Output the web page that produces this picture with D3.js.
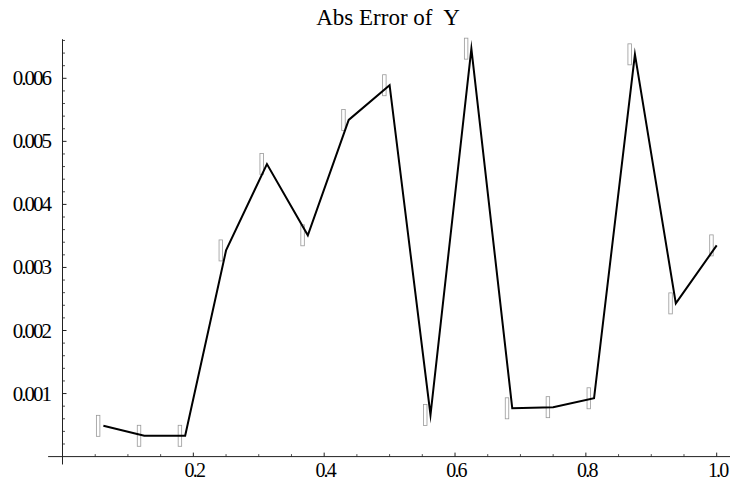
<!DOCTYPE html>
<html>
<head>
<meta charset="utf-8">
<script src="https://cdn.jsdelivr.net/npm/d3@7"></script>
<style>
  body { margin: 0; background: #fff; }
</style>
</head>
<body>
<svg id="chart"></svg>
<script>
// sample points (x) and absolute error (y)
const xValues = [0.0625, 0.125, 0.1875, 0.25, 0.3125, 0.375, 0.4375, 0.5,
                 0.5625, 0.625, 0.6875, 0.75, 0.8125, 0.875, 0.9375, 1.0];
const errValues = [0.000488, 0.00033, 0.00033, 0.00327, 0.00464, 0.00351, 0.00534, 0.00589,
                   0.00066, 0.00647, 0.000766, 0.000784, 0.000925, 0.00638, 0.00243, 0.00335];
const xTicks = [0.2, 0.4, 0.6, 0.8, 1.0];
const yTicks = [0.001, 0.002, 0.003, 0.004, 0.005, 0.006];
const xMinorTicks = [0.05, 0.1, 0.15, 0.25, 0.3, 0.35, 0.45, 0.5, 0.55, 0.65, 0.7, 0.75, 0.85, 0.9, 0.95];
const yMinorTicks = [0.0002, 0.0004, 0.0006, 0.0008, 0.0012, 0.0014, 0.0016, 0.0018,
                     0.0022, 0.0024, 0.0026, 0.0028, 0.0032, 0.0034, 0.0036, 0.0038,
                     0.0042, 0.0044, 0.0046, 0.0048, 0.0052, 0.0054, 0.0056, 0.0058,
                     0.0062, 0.0064, 0.0066];

const width = 730, height = 480;
const font = "'Liberation Serif', 'Times New Roman', serif";
const data = xValues.map((x, i) => ({x: x, y: errValues[i]}));

const svg = d3.select('#chart')
    .attr('width', width)
    .attr('height', height);

const xScale = d3.scaleLinear().domain([0, 1]).range([62.5, 716.7]);
const yScale = d3.scaleLinear().domain([0, 0.006]).range([456.6, 78.3]);

// title
svg.append('text')
    .attr('x', 388)
    .attr('y', 25)
    .attr('text-anchor', 'middle')
    .attr('font-family', font)
    .style('font-size', '23px')
    .style('white-space', 'pre')
    .text('Abs Error of  Y');

// axis lines (drawn through the origin, like Mathematica)
const axisColor = '#222';
svg.append('line')
    .attr('x1', xScale(-0.022)).attr('x2', width)
    .attr('y1', yScale(0)).attr('y2', yScale(0))
    .attr('stroke', axisColor).attr('stroke-width', 1);
svg.append('line')
    .attr('x1', xScale(0)).attr('x2', xScale(0))
    .attr('y1', yScale(-0.000125)).attr('y2', yScale(0.00662))
    .attr('stroke', axisColor).attr('stroke-width', 1);

// x ticks (pointing into the plot)
svg.append('g').selectAll('line')
    .data(xTicks)
    .join('line')
      .attr('x1', d => xScale(d)).attr('x2', d => xScale(d))
      .attr('y1', yScale(0)).attr('y2', yScale(0) - 4)
      .attr('stroke', axisColor).attr('stroke-width', 1);
svg.append('g').selectAll('line')
    .data(xMinorTicks)
    .join('line')
      .attr('x1', d => xScale(d)).attr('x2', d => xScale(d))
      .attr('y1', yScale(0)).attr('y2', yScale(0) - 2.5)
      .attr('stroke', axisColor).attr('stroke-width', 0.8);
svg.append('g').selectAll('text')
    .data(xTicks)
    .join('text')
      .attr('x', d => xScale(d) + 1)
      .attr('y', yScale(0) + 20.5)
      .attr('text-anchor', 'middle')
      .attr('font-family', font)
      .style('font-size', '20px')
      .style('letter-spacing', '-1.8px')
      .text(d => d3.format('.1f')(d));

// y ticks
svg.append('g').selectAll('line')
    .data(yTicks)
    .join('line')
      .attr('x1', xScale(0)).attr('x2', xScale(0) + 4)
      .attr('y1', d => yScale(d)).attr('y2', d => yScale(d))
      .attr('stroke', axisColor).attr('stroke-width', 1);
svg.append('g').selectAll('line')
    .data(yMinorTicks)
    .join('line')
      .attr('x1', xScale(0)).attr('x2', xScale(0) + 2.5)
      .attr('y1', d => yScale(d)).attr('y2', d => yScale(d))
      .attr('stroke', axisColor).attr('stroke-width', 0.8);
svg.append('g').selectAll('text')
    .data(yTicks)
    .join('text')
      .attr('x', 50)
      .attr('y', d => yScale(d) + 7)
      .attr('text-anchor', 'end')
      .attr('font-family', font)
      .style('font-size', '21px')
      .style('letter-spacing', '-2px')
      .text(d => d3.format('.3f')(d));

// point label boxes (the missing glyphs next to each point)
svg.append('g').selectAll('rect')
    .data(data)
    .join('rect')
      .attr('x', d => xScale(d.x) - 7)
      .attr('y', d => yScale(d.y) - 10.5)
      .attr('width', 3.5)
      .attr('height', 21)
      .attr('fill', 'none')
      .attr('stroke', '#999')
      .attr('stroke-width', 0.8);

// error line
const line = d3.line()
    .x(d => xScale(d.x))
    .y(d => yScale(d.y));

svg.append('path')
    .datum(data)
    .attr('d', line)
    .attr('fill', 'none')
    .attr('stroke', '#000')
    .attr('stroke-width', 2)
    .attr('stroke-linejoin', 'miter')
    .attr('stroke-miterlimit', 20);
</script>
</body>
</html>
